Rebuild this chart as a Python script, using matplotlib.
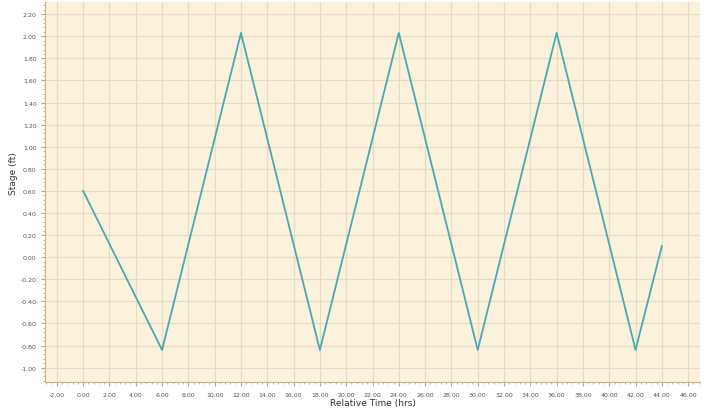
import matplotlib.pyplot as plt
import numpy as np
from matplotlib.ticker import MultipleLocator

# data
hours = [0, 6, 12, 18, 24, 30, 36, 42, 44]
stage = [0.60, -0.84, 2.03, -0.84, 2.03, -0.84, 2.03, -0.84, 0.10]

x_ticks = np.arange(-2, 47, 2)
y_ticks = np.round(np.arange(-1.0, 2.21, 0.2), 2)

fig = plt.figure(figsize=(7.06, 4.10), dpi=100)
ax = fig.add_axes([45 / 706, 1 - 383 / 410, 655 / 706, 380 / 410])
ax.set_facecolor('#fbf1dd')

ax.plot(hours, stage, color='#4aa9b3', linewidth=1.3)

ax.set_xlim(-2.9, 46.9)
ax.set_ylim(-1.13, 2.31)
ax.set_xticks(x_ticks)
ax.set_xticklabels([f'{v:.2f}' for v in x_ticks])
ax.set_yticks(y_ticks)
ax.set_yticklabels([f'{v + 0.0:.2f}' for v in y_ticks])
ax.xaxis.set_minor_locator(MultipleLocator(0.4))
ax.yaxis.set_minor_locator(MultipleLocator(0.04))

ax.grid(True, which='major', color='#e6dcc4', linewidth=0.9)
ax.tick_params(which='major', labelsize=4.5, labelcolor='#555555', length=3,
               color='#b8a878')
ax.tick_params(axis='x', which='major', pad=4)
ax.tick_params(axis='y', which='major', pad=3)
ax.tick_params(which='minor', length=1.5, color='#b8a878')

for side in ['top', 'right']:
    ax.spines[side].set_visible(False)
for side in ['left', 'bottom']:
    ax.spines[side].set_color('#c9b47a')

ax.set_xlabel('Relative Time (hrs)', fontsize=6.5, color='#333333', labelpad=1)
ax.set_ylabel('Stage (ft)', fontsize=6.5, color='#333333')
ax.yaxis.set_label_coords(-27 / 655, 0.55)

plt.savefig('out.png', dpi=100)
